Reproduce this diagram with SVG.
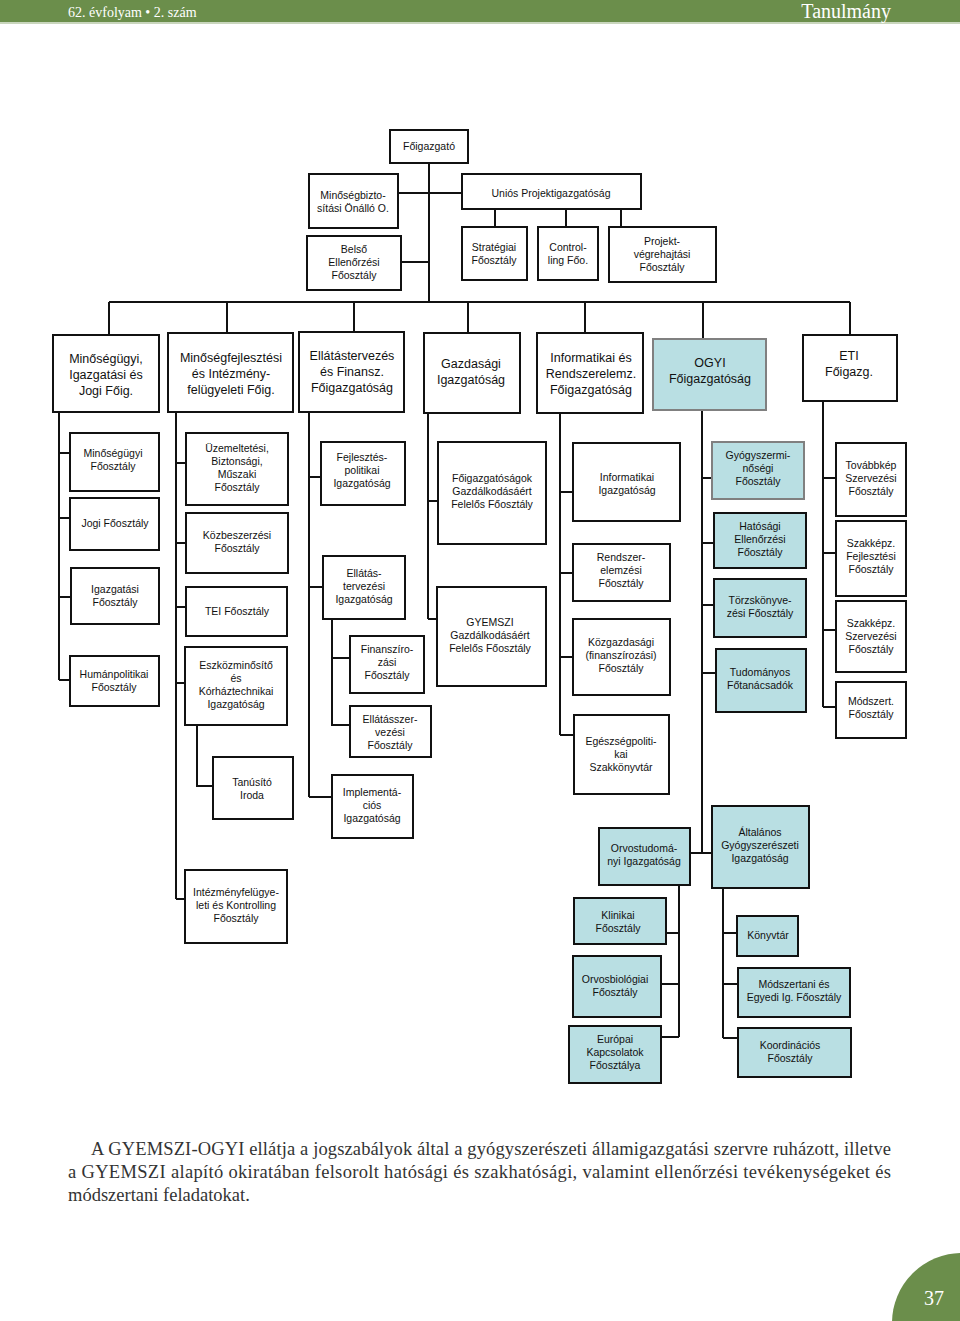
<svg xmlns="http://www.w3.org/2000/svg" width="960" height="1321" viewBox="0 0 960 1321">
<style>
rect.b{fill:#fff;stroke:#111;stroke-width:2}
rect.c{fill:#b9dfe3;stroke:#111;stroke-width:2}
rect.g{fill:#b9dfe3;stroke:#808080;stroke-width:2}
text.s{font-family:"Liberation Sans",Arial,sans-serif;font-size:10.5px;text-anchor:middle;fill:#111}
text.m{font-family:"Liberation Sans",Arial,sans-serif;font-size:12.5px;text-anchor:middle;fill:#111}
text.p{font-family:"Liberation Serif","Times New Roman",serif;font-size:18.5px;fill:#333}
#connectors path{fill:none;stroke:#111;stroke-width:2}
</style>
<rect x="0" y="0" width="960" height="1321" fill="#fff"/>
<g id="header">
<rect x="0" y="0" width="960" height="22" fill="#6b8e4b"/>
<rect x="0" y="22" width="960" height="2" fill="#c9d6bd"/>
<text x="68" y="17" font-family="Liberation Serif,serif" font-size="14" fill="#fff">62. évfolyam • 2. szám</text>
<text x="891" y="18" font-family="Liberation Serif,serif" font-size="20" fill="#fff" text-anchor="end">Tanulmány</text>
</g>
<g id="connectors">
<path d="M429 163V302M109 302H850M398 193H462M401 262H429M495 209V227M566 209V227M621 209V227"/>
<path d="M109 302V335M227 302V333M354 302V332M468 302V333M585 302V333M703 302V339M850 302V335"/>
<path d="M59 412V680M59 453H70M59 518H70M59 597H71M59 680H70"/>
<path d="M176 412V899M176 463H186M176 543H186M176 607H186M176 683H185M176 899H185M197 725V786H213"/>
<path d="M309 412V797M309 477H321M309 587H323M309 797H332M332 619V725H350M332 658H350"/>
<path d="M428 413V619M428 501H438M428 619H437"/>
<path d="M560 413V735M560 492H573M560 573H573M560 657H573M560 735H574"/>
<path d="M702 410V853M702 478H712M702 543H714M702 605H714M702 673H716M690 853H712"/>
<path d="M679 885V1037M679 933H666M679 984H661M679 1037H661M723 888V1038M723 933H737M723 984H738M723 1038H738"/>
<path d="M823 401V707M823 478H836M823 553H836M823 630H836M823 707H836"/>
</g>
<g id="n-foigazgato"><rect class="b" x="390" y="130" width="78" height="33"/><text class="s" x="429" y="150">Főigazgató</text></g>
<g id="n-minbizt"><rect class="b" x="309" y="174" width="89" height="54"/><text class="s" y="199"><tspan x="353">Minőségbizto-</tspan><tspan x="353" dy="13">sítási Önálló O.</tspan></text></g>
<g id="n-unios"><rect class="b" x="462" y="174" width="179" height="35"/><text class="s" x="551" y="197">Uniós Projektigazgatóság</text></g>
<g id="n-belso"><rect class="b" x="307" y="236" width="94" height="54"/><text class="s" y="253"><tspan x="354">Belső</tspan><tspan x="354" dy="13">Ellenőrzési</tspan><tspan x="354" dy="13">Főosztály</tspan></text></g>
<g id="n-strat"><rect class="b" x="462" y="227" width="65" height="53"/><text class="s" y="251"><tspan x="494">Stratégiai</tspan><tspan x="494" dy="13">Főosztály</tspan></text></g>
<g id="n-contr"><rect class="b" x="538" y="227" width="60" height="53"/><text class="s" y="251"><tspan x="568">Control-</tspan><tspan x="568" dy="13">ling Főo.</tspan></text></g>
<g id="n-projekt"><rect class="b" x="609" y="227" width="107" height="55"/><text class="s" y="245"><tspan x="662">Projekt-</tspan><tspan x="662" dy="13">végrehajtási</tspan><tspan x="662" dy="13">Főosztály</tspan></text></g>

<g id="n-m1"><rect class="b" x="53" y="335" width="106" height="77"/><text class="m" y="363"><tspan x="106">Minőségügyi,</tspan><tspan x="106" dy="16">Igazgatási és</tspan><tspan x="106" dy="16">Jogi Főig.</tspan></text></g>
<g id="n-m2"><rect class="b" x="168" y="333" width="125" height="79"/><text class="m" y="362"><tspan x="231">Minőségfejlesztési</tspan><tspan x="231" dy="16">és Intézmény-</tspan><tspan x="231" dy="16">felügyeleti Főig.</tspan></text></g>
<g id="n-m3"><rect class="b" x="299" y="332" width="105" height="80"/><text class="m" y="360"><tspan x="352">Ellátástervezés</tspan><tspan x="352" dy="16">és Finansz.</tspan><tspan x="352" dy="16">Főigazgatóság</tspan></text></g>
<g id="n-m4"><rect class="b" x="424" y="333" width="96" height="80"/><text class="m" y="368"><tspan x="471">Gazdasági</tspan><tspan x="471" dy="16">Igazgatóság</tspan></text></g>
<g id="n-m5"><rect class="b" x="537" y="333" width="106" height="80"/><text class="m" y="362"><tspan x="591">Informatikai és</tspan><tspan x="591" dy="16">Rendszerelemz.</tspan><tspan x="591" dy="16">Főigazgatóság</tspan></text></g>
<g id="n-m6"><rect class="g" x="653" y="339" width="113" height="71"/><text class="m" y="367"><tspan x="710">OGYI</tspan><tspan x="710" dy="16">Főigazgatóság</tspan></text></g>
<g id="n-m7"><rect class="b" x="803" y="335" width="94" height="66"/><text class="m" y="360"><tspan x="849">ETI</tspan><tspan x="849" dy="16">Főigazg.</tspan></text></g>

<g id="n-c1a"><rect class="b" x="70" y="433" width="89" height="58"/><text class="s" y="457"><tspan x="113">Minőségügyi</tspan><tspan x="113" dy="13">Főosztály</tspan></text></g>
<g id="n-c1b"><rect class="b" x="70" y="498" width="89" height="52"/><text class="s" x="115" y="527">Jogi Főosztály</text></g>
<g id="n-c1c"><rect class="b" x="71" y="568" width="88" height="56"/><text class="s" y="593"><tspan x="115">Igazgatási</tspan><tspan x="115" dy="13">Főosztály</tspan></text></g>
<g id="n-c1d"><rect class="b" x="70" y="656" width="89" height="50"/><text class="s" y="678"><tspan x="114">Humánpolitikai</tspan><tspan x="114" dy="13">Főosztály</tspan></text></g>

<g id="n-c2a"><rect class="b" x="186" y="433" width="102" height="72"/><text class="s" y="452"><tspan x="237">Üzemeltetési,</tspan><tspan x="237" dy="13">Biztonsági,</tspan><tspan x="237" dy="13">Műszaki</tspan><tspan x="237" dy="13">Főosztály</tspan></text></g>
<g id="n-c2b"><rect class="b" x="186" y="513" width="102" height="60"/><text class="s" y="539"><tspan x="237">Közbeszerzési</tspan><tspan x="237" dy="13">Főosztály</tspan></text></g>
<g id="n-c2c"><rect class="b" x="186" y="587" width="101" height="49"/><text class="s" x="237" y="615">TEI Főosztály</text></g>
<g id="n-c2d"><rect class="b" x="185" y="647" width="102" height="78"/><text class="s" y="669"><tspan x="236">Eszközminősítő</tspan><tspan x="236" dy="13">és</tspan><tspan x="236" dy="13">Kórháztechnikai</tspan><tspan x="236" dy="13">Igazgatóság</tspan></text></g>
<g id="n-c2e"><rect class="b" x="213" y="757" width="80" height="62"/><text class="s" y="786"><tspan x="252">Tanúsító</tspan><tspan x="252" dy="13">Iroda</tspan></text></g>
<g id="n-c2f"><rect class="b" x="185" y="870" width="102" height="73"/><text class="s" y="896"><tspan x="236">Intézményfelügye-</tspan><tspan x="236" dy="13">leti és Kontrolling</tspan><tspan x="236" dy="13">Főosztály</tspan></text></g>

<g id="n-c3a"><rect class="b" x="321" y="442" width="84" height="63"/><text class="s" y="461"><tspan x="362">Fejlesztés-</tspan><tspan x="362" dy="13">politikai</tspan><tspan x="362" dy="13">Igazgatóság</tspan></text></g>
<g id="n-c3b"><rect class="b" x="323" y="556" width="82" height="63"/><text class="s" y="577"><tspan x="364">Ellátás-</tspan><tspan x="364" dy="13">tervezési</tspan><tspan x="364" dy="13">Igazgatóság</tspan></text></g>
<g id="n-c3c"><rect class="b" x="350" y="636" width="74" height="57"/><text class="s" y="653"><tspan x="387">Finanszíro-</tspan><tspan x="387" dy="13">zási</tspan><tspan x="387" dy="13">Főosztály</tspan></text></g>
<g id="n-c3d"><rect class="b" x="350" y="706" width="81" height="51"/><text class="s" y="723"><tspan x="390">Ellátásszer-</tspan><tspan x="390" dy="13">vezési</tspan><tspan x="390" dy="13">Főosztály</tspan></text></g>
<g id="n-c3e"><rect class="b" x="332" y="775" width="81" height="63"/><text class="s" y="796"><tspan x="372">Implementá-</tspan><tspan x="372" dy="13">ciós</tspan><tspan x="372" dy="13">Igazgatóság</tspan></text></g>

<g id="n-c4a"><rect class="b" x="438" y="442" width="108" height="102"/><text class="s" y="482"><tspan x="492">Főigazgatóságok</tspan><tspan x="492" dy="13">Gazdálkodásáért</tspan><tspan x="492" dy="13">Felelős Főosztály</tspan></text></g>
<g id="n-c4b"><rect class="b" x="437" y="587" width="109" height="99"/><text class="s" y="626"><tspan x="490">GYEMSZI</tspan><tspan x="490" dy="13">Gazdálkodásáért</tspan><tspan x="490" dy="13">Felelős Főosztály</tspan></text></g>

<g id="n-c5a"><rect class="b" x="573" y="443" width="107" height="78"/><text class="s" y="481"><tspan x="627">Informatikai</tspan><tspan x="627" dy="13">Igazgatóság</tspan></text></g>
<g id="n-c5b"><rect class="b" x="573" y="544" width="97" height="57"/><text class="s" y="561"><tspan x="621">Rendszer-</tspan><tspan x="621" dy="13">elemzési</tspan><tspan x="621" dy="13">Főosztály</tspan></text></g>
<g id="n-c5c"><rect class="b" x="573" y="619" width="97" height="76"/><text class="s" y="646"><tspan x="621">Közgazdasági</tspan><tspan x="621" dy="13">(finanszírozási)</tspan><tspan x="621" dy="13">Főosztály</tspan></text></g>
<g id="n-c5d"><rect class="b" x="574" y="715" width="95" height="79"/><text class="s" y="745"><tspan x="621">Egészségpoliti-</tspan><tspan x="621" dy="13">kai</tspan><tspan x="621" dy="13">Szakkönyvtár</tspan></text></g>

<g id="n-c6a"><rect class="g" x="712" y="442" width="92" height="57"/><text class="s" y="459"><tspan x="758">Gyógyszermi-</tspan><tspan x="758" dy="13">nőségi</tspan><tspan x="758" dy="13">Főosztály</tspan></text></g>
<g id="n-c6b"><rect class="c" x="714" y="513" width="92" height="55"/><text class="s" y="530"><tspan x="760">Hatósági</tspan><tspan x="760" dy="13">Ellenőrzési</tspan><tspan x="760" dy="13">Főosztály</tspan></text></g>
<g id="n-c6c"><rect class="c" x="714" y="579" width="92" height="58"/><text class="s" y="604"><tspan x="760">Törzskönyve-</tspan><tspan x="760" dy="13">zési Főosztály</tspan></text></g>
<g id="n-c6d"><rect class="c" x="716" y="649" width="90" height="63"/><text class="s" y="676"><tspan x="760">Tudományos</tspan><tspan x="760" dy="13">Főtanácsadók</tspan></text></g>
<g id="n-c6e"><rect class="c" x="712" y="806" width="97" height="82"/><text class="s" y="836"><tspan x="760">Általános</tspan><tspan x="760" dy="13">Gyógyszerészeti</tspan><tspan x="760" dy="13">Igazgatóság</tspan></text></g>
<g id="n-c6f"><rect class="c" x="599" y="828" width="91" height="57"/><text class="s" y="852"><tspan x="644">Orvostudomá-</tspan><tspan x="644" dy="13">nyi Igazgatóság</tspan></text></g>
<g id="n-c6g"><rect class="c" x="574" y="898" width="92" height="46"/><text class="s" y="919"><tspan x="618">Klinikai</tspan><tspan x="618" dy="13">Főosztály</tspan></text></g>
<g id="n-c6h"><rect class="c" x="573" y="956" width="88" height="61"/><text class="s" y="983"><tspan x="615">Orvosbiológiai</tspan><tspan x="615" dy="13">Főosztály</tspan></text></g>
<g id="n-c6i"><rect class="c" x="569" y="1026" width="92" height="57"/><text class="s" y="1043"><tspan x="615">Európai</tspan><tspan x="615" dy="13">Kapcsolatok</tspan><tspan x="615" dy="13">Főosztálya</tspan></text></g>
<g id="n-c6j"><rect class="c" x="737" y="916" width="61" height="40"/><text class="s" x="768" y="939">Könyvtár</text></g>
<g id="n-c6k"><rect class="c" x="738" y="968" width="112" height="49"/><text class="s" y="988"><tspan x="794">Módszertani és</tspan><tspan x="794" dy="13">Egyedi Ig. Főosztály</tspan></text></g>
<g id="n-c6l"><rect class="c" x="738" y="1028" width="113" height="49"/><text class="s" y="1049"><tspan x="790">Koordinációs</tspan><tspan x="790" dy="13">Főosztály</tspan></text></g>

<g id="n-c7a"><rect class="b" x="836" y="443" width="70" height="73"/><text class="s" y="469"><tspan x="871">Továbbkép</tspan><tspan x="871" dy="13">Szervezési</tspan><tspan x="871" dy="13">Főosztály</tspan></text></g>
<g id="n-c7b"><rect class="b" x="836" y="521" width="70" height="75"/><text class="s" y="547"><tspan x="871">Szakképz.</tspan><tspan x="871" dy="13">Fejlesztési</tspan><tspan x="871" dy="13">Főosztály</tspan></text></g>
<g id="n-c7c"><rect class="b" x="836" y="601" width="70" height="71"/><text class="s" y="627"><tspan x="871">Szakképz.</tspan><tspan x="871" dy="13">Szervezési</tspan><tspan x="871" dy="13">Főosztály</tspan></text></g>
<g id="n-c7d"><rect class="b" x="836" y="682" width="70" height="56"/><text class="s" y="705"><tspan x="871">Módszert.</tspan><tspan x="871" dy="13">Főosztály</tspan></text></g>

<g id="paragraph">
<text class="p" x="91" y="1155" textLength="800" lengthAdjust="spacing">A GYEMSZI-OGYI ellátja a jogszabályok által a gyógyszerészeti államigazgatási szervre ruházott, illetve</text>
<text class="p" x="68" y="1178" textLength="823" lengthAdjust="spacing">a GYEMSZI alapító okiratában felsorolt hatósági és szakhatósági, valamint ellenőrzési tevékenységeket és</text>
<text class="p" x="68" y="1201">módszertani feladatokat.</text>
</g>
<g id="page-number">
<circle cx="962" cy="1323" r="70" fill="#6b8e4b"/>
<text x="934" y="1305" font-family="Liberation Serif,serif" font-size="20" fill="#fff" text-anchor="middle">37</text>
</g>
</svg>
